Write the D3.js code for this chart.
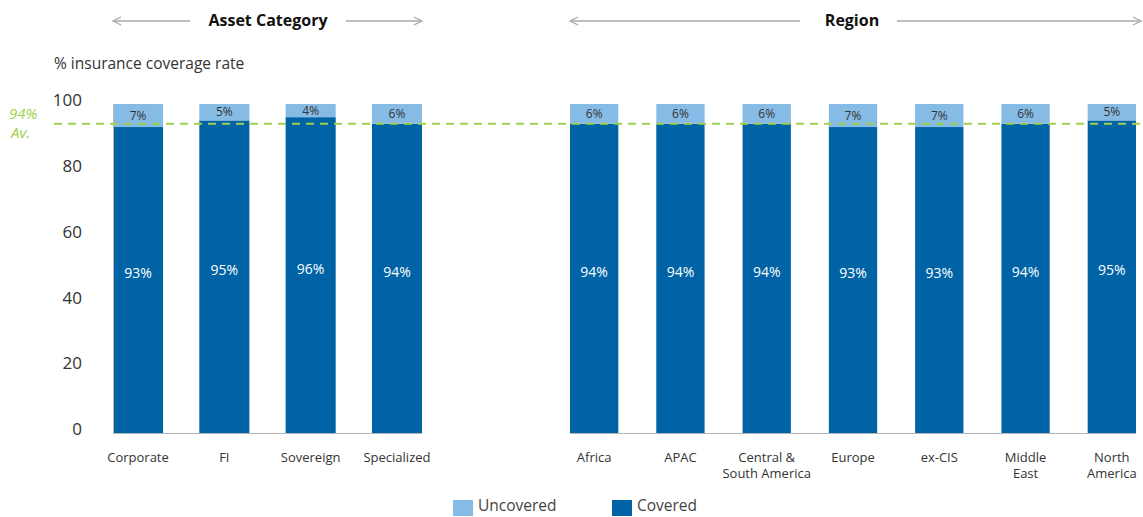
<!DOCTYPE html>
<html>
<head>
<meta charset="utf-8">
<script src="https://cdn.jsdelivr.net/npm/d3@7"></script>
<style>
  body { margin: 0; background: #fff; }
  text { font-family: "Open Sans", "Noto Sans", sans-serif; }
</style>
</head>
<body>
<div id="chart"></div>
<script>
// categories
const assetCats = ['Corporate', 'FI', 'Sovereign', 'Specialized'];
const regionCats = ['Africa', 'APAC', 'Central &\nSouth America', 'Europe', 'ex-CIS', 'Middle\nEast', 'North\nAmerica'];

// series values (%)
const assetCovered = [93, 95, 96, 94];
const assetUncovered = [7, 5, 4, 6];
const regionCovered = [94, 94, 94, 93, 93, 94, 95];
const regionUncovered = [6, 6, 6, 7, 7, 6, 5];

const yTicks = [0, 20, 40, 60, 80, 100];
const average = 94;

const size = { width: 1143, height: 517 };
const colors = { covered: '#0063a6', uncovered: '#86bbe5', avg: '#9fd04e', arrow: '#aaaaaa' };

const svg = d3.select('#chart')
  .append('svg')
  .attr('width', size.width)
  .attr('height', size.height);

/*
  SCALES
*/
const y = d3.scaleLinear().domain([0, 100]).range([433, 104]);

const xAsset = d3.scaleBand()
  .domain(assetCats)
  .range([113, 422])
  .paddingInner(0.42)
  .paddingOuter(0);

const xRegion = d3.scaleBand()
  .domain(regionCats)
  .range([570, 1136])
  .paddingInner(0.44)
  .paddingOuter(0);

// y tick labels
svg.append('g')
  .attr('transform', 'translate(82,0)')
  .call(d3.axisLeft(y).tickValues(yTicks).tickSize(0).tickPadding(0))
  .call((g) => g.select('.domain').remove())
  .call((g) => g.selectAll('text')
    .attr('font-size', '17px')
    .attr('fill', '#333')
    .attr('dy', '0.1em'));

svg.append('text')
  .attr('x', 54)
  .attr('y', 69)
  .attr('font-size', '15.5px')
  .attr('fill', '#333')
  .text('% insurance coverage rate');

const drawGroup = (x, cats, covered, uncovered) => {
  const rows = cats.map((c, i) => ({ cat: c, cov: covered[i], unc: uncovered[i] }));
  const g = svg.append('g');

  const bars = g.selectAll('.bar').data(rows).join('g');

  bars.append('rect')
    .attr('x', (d) => x(d.cat))
    .attr('y', (d) => y(d.cov))
    .attr('width', x.bandwidth())
    .attr('height', (d) => y(0) - y(d.cov))
    .attr('fill', colors.covered);

  bars.append('rect')
    .attr('x', (d) => x(d.cat))
    .attr('y', (d) => y(d.cov + d.unc))
    .attr('width', x.bandwidth())
    .attr('height', (d) => y(d.cov) - y(d.cov + d.unc))
    .attr('fill', colors.uncovered);

  bars.append('text')
    .attr('x', (d) => x(d.cat) + x.bandwidth() / 2)
    .attr('y', (d) => y(d.cov + d.unc / 2) + 4)
    .attr('text-anchor', 'middle')
    .attr('font-size', '12px')
    .attr('fill', '#333')
    .text((d) => `${d.unc}%`);

  bars.append('text')
    .attr('x', (d) => x(d.cat) + x.bandwidth() / 2)
    .attr('y', (d) => y(d.cov / 2 + 2) + 5)
    .attr('text-anchor', 'middle')
    .attr('font-size', '14px')
    .attr('fill', '#fff')
    .text((d) => `${d.cov}%`);

  // category labels, possibly two lines
  const labels = g.selectAll('.lab').data(rows).join('text')
    .attr('x', (d) => x(d.cat) + x.bandwidth() / 2)
    .attr('y', 462)
    .attr('text-anchor', 'middle')
    .attr('font-size', '13px')
    .attr('fill', '#333');
  labels.selectAll('tspan')
    .data((d) => d.cat.split('\n').map((t) => ({ t, x: x(d.cat) + x.bandwidth() / 2 })))
    .join('tspan')
    .attr('x', (d) => d.x)
    .attr('dy', (d, i) => (i === 0 ? 0 : 16))
    .text((d) => d.t);

  // baseline
  const x0 = x(cats[0]);
  const x1 = x(cats[cats.length - 1]) + x.bandwidth();
  g.append('line')
    .attr('x1', x0).attr('x2', x1)
    .attr('y1', y(0) + 0.5).attr('y2', y(0) + 0.5)
    .attr('stroke', '#b5b5b5')
    .attr('stroke-width', 1.2);
  return { x0, x1 };
};

const a = drawGroup(xAsset, assetCats, assetCovered, assetUncovered);
const r = drawGroup(xRegion, regionCats, regionCovered, regionUncovered);

// y axis line along the left group
svg.append('line')
  .attr('x1', a.x0 + 0.5).attr('x2', a.x0 + 0.5)
  .attr('y1', y(100)).attr('y2', y(0))
  .attr('stroke', '#b5b5b5');

// average line
svg.append('line')
  .attr('x1', 54).attr('x2', size.width)
  .attr('y1', y(average)).attr('y2', y(average))
  .attr('stroke', colors.avg)
  .attr('stroke-width', 2)
  .attr('stroke-dasharray', '8,6');

svg.append('text')
  .attr('x', 9).attr('y', 119)
  .attr('font-size', '15px')
  .attr('font-style', 'italic')
  .attr('fill', colors.avg)
  .text(`${average}%`);
svg.append('text')
  .attr('x', 11).attr('y', 138)
  .attr('font-size', '15px')
  .attr('font-style', 'italic')
  .attr('fill', colors.avg)
  .text('Av.');

// group headers with arrows
const defs = svg.append('defs');
defs.append('marker')
  .attr('id', 'arr')
  .attr('viewBox', '0 0 10 10')
  .attr('refX', 9).attr('refY', 5)
  .attr('markerWidth', 10).attr('markerHeight', 10)
  .attr('markerUnits', 'userSpaceOnUse')
  .attr('orient', 'auto-start-reverse')
  .append('path')
  .attr('d', 'M1,1 L9,5 L1,9')
  .attr('fill', 'none')
  .attr('stroke', colors.arrow)
  .attr('stroke-width', 1.3);

const header = (label, cx, gapL, gapR, left, right) => {
  svg.append('text')
    .attr('x', cx).attr('y', 26)
    .attr('text-anchor', 'middle')
    .attr('font-size', '16px')
    .attr('font-weight', 'bold')
    .attr('fill', '#111')
    .text(label);
  svg.append('line')
    .attr('x1', gapL).attr('x2', left)
    .attr('y1', 21).attr('y2', 21)
    .attr('stroke', colors.arrow)
    .attr('stroke-width', 1.3)
    .attr('marker-end', 'url(#arr)');
  svg.append('line')
    .attr('x1', gapR).attr('x2', right)
    .attr('y1', 21).attr('y2', 21)
    .attr('stroke', colors.arrow)
    .attr('stroke-width', 1.3)
    .attr('marker-end', 'url(#arr)');
};

header('Asset Category', 268, 190, 346, a.x0, a.x1);
header('Region', 852, 800, 897, r.x0, 1141);

// legend
const legend = [
  { name: 'Uncovered', color: colors.uncovered, x: 453 },
  { name: 'Covered', color: colors.covered, x: 612 },
];
const lg = svg.selectAll('.legend').data(legend).join('g');
lg.append('rect')
  .attr('x', (d) => d.x).attr('y', 500)
  .attr('width', 20).attr('height', 16)
  .attr('fill', (d) => d.color);
lg.append('text')
  .attr('x', (d) => d.x + 25).attr('y', 511)
  .attr('font-size', '15.5px')
  .attr('fill', '#444')
  .text((d) => d.name);
</script>
</body>
</html>
